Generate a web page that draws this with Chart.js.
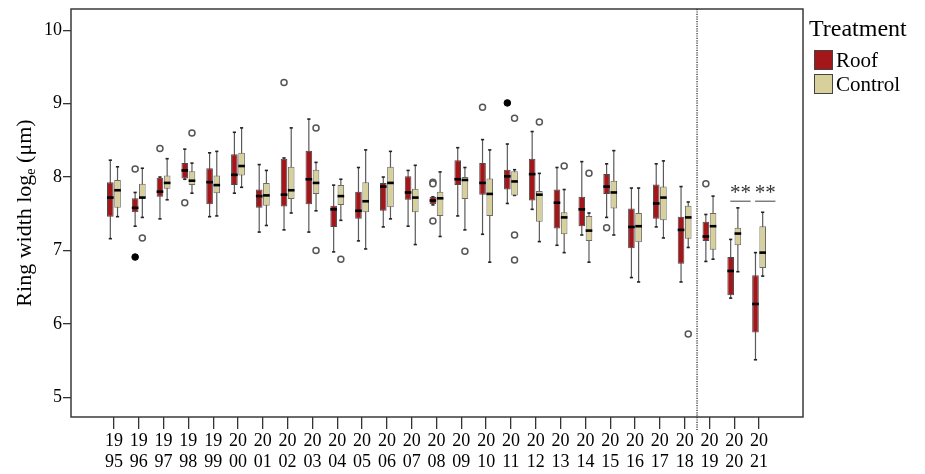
<!DOCTYPE html>
<html>
<head>
<meta charset="utf-8">
<script src="https://cdn.jsdelivr.net/npm/chart.js@4.4.1/dist/chart.umd.min.js"></script>
<style>
  html, body { margin: 0; padding: 0; background: #fff; }
  #wrap { width: 925px; height: 474px; }
</style>
</head>
<body>
<div id="wrap"><canvas id="chart"></canvas></div>
<script>
const years = ['1995','1996','1997','1998','1999','2000','2001','2002','2003','2004','2005','2006','2007','2008',
  '2009','2010','2011','2012','2013','2014','2015','2016','2017','2018','2019','2020','2021'];

// [lower whisker, Q1, median, Q3, upper whisker]
const roofStats = [
  [7.16, 7.46, 7.72, 7.93, 8.23], [7.33, 7.52, 7.58, 7.71, 7.79], [7.43, 7.73, 7.80, 7.99, 8.00],
  [7.97, 7.98, 8.09, 8.19, 8.38], [7.46, 7.63, 7.93, 8.12, 8.33], [7.78, 7.89, 8.03, 8.31, 8.61],
  [7.25, 7.58, 7.74, 7.83, 8.17], [7.28, 7.60, 7.76, 8.25, 8.26], [7.25, 7.63, 7.97, 8.36, 8.79],
  [6.98, 7.32, 7.56, 7.61, 7.89], [7.13, 7.43, 7.54, 7.80, 8.13], [7.32, 7.54, 7.87, 7.92, 8.00],
  [7.33, 7.69, 7.79, 8.01, 8.09], [7.62, 7.63, 7.68, 7.73, 7.73], [7.47, 7.89, 7.97, 8.23, 8.40],
  [7.22, 7.76, 7.92, 8.19, 8.51], [7.64, 7.83, 8.01, 8.10, 8.45], [7.56, 7.68, 8.04, 8.25, 8.62],
  [7.07, 7.30, 7.65, 7.83, 8.13], [7.21, 7.33, 7.56, 7.73, 8.21], [7.45, 7.77, 7.87, 8.04, 8.18],
  [6.63, 7.03, 7.32, 7.57, 7.85], [7.32, 7.43, 7.64, 7.90, 8.18], [6.57, 6.82, 7.28, 7.46, 7.87],
  [6.85, 7.13, 7.19, 7.39, 7.49], [6.35, 6.39, 6.72, 6.91, 7.15], [5.51, 5.88, 6.27, 6.66, 6.97]
];
const controlStats = [
  [7.46, 7.58, 7.82, 7.96, 8.14], [7.45, 7.71, 7.72, 7.91, 8.12], [7.69, 7.84, 7.92, 8.02, 8.25],
  [7.78, 7.89, 7.95, 8.08, 8.19], [7.47, 7.78, 7.89, 8.02, 8.35], [7.86, 8.02, 8.15, 8.33, 8.67],
  [7.34, 7.61, 7.75, 7.92, 8.09], [7.51, 7.70, 7.82, 8.14, 8.67], [7.54, 7.77, 7.92, 8.10, 8.20],
  [7.41, 7.62, 7.74, 7.89, 7.97], [7.02, 7.52, 7.67, 7.93, 8.37], [7.43, 7.59, 7.92, 8.14, 8.35],
  [7.08, 7.52, 7.72, 7.84, 8.16], [7.19, 7.47, 7.71, 7.80, 8.07], [7.28, 7.70, 7.96, 8.00, 8.13],
  [6.84, 7.47, 7.77, 7.98, 8.37], [7.75, 7.75, 7.94, 8.08, 8.10], [7.12, 7.39, 7.76, 7.81, 8.05],
  [6.97, 7.22, 7.45, 7.52, 7.83], [6.84, 7.13, 7.27, 7.47, 7.51], [7.21, 7.57, 7.79, 7.95, 8.36],
  [6.57, 7.11, 7.33, 7.51, 7.85], [7.17, 7.41, 7.72, 7.87, 8.22], [7.04, 7.16, 7.45, 7.61, 7.66],
  [6.88, 7.01, 7.33, 7.51, 7.74], [6.71, 7.07, 7.23, 7.31, 7.58], [6.65, 6.76, 6.97, 7.33, 7.52]
];

// outliers (open circles) and extremes (filled dots): [year, value]
const roofOutliers = [['1996', 8.11], ['1997', 8.39], ['1998', 7.65], ['2002', 9.29], ['2008', 7.93],
  ['2008', 7.91], ['2008', 7.40], ['2010', 8.95], ['2015', 7.31], ['2019', 7.91]];
const roofExtremes = [['1996', 6.91], ['2011', 9.01]];
const controlOutliers = [['1996', 7.17], ['1998', 8.60], ['2003', 8.67], ['2003', 7.00], ['2004', 6.88],
  ['2009', 6.99], ['2011', 8.80], ['2011', 7.21], ['2011', 6.87], ['2012', 8.75], ['2013', 8.15],
  ['2014', 8.05], ['2018', 5.86]];

const sigYears = ['2020', '2021'];
const sigLevel = 7.67;
const sigLabel = '**';
const splitBetween = ['2018', '2019'];
const yTicks = [5, 6, 7, 8, 9, 10];
const legendTitle = 'Treatment';

const SERIF = "'Liberation Serif', 'Times New Roman', serif";
const ROOF = '#a3161a';
const CONTROL = '#d8d09a';
const CAT_PCT = 0.58;
const yi = y => years.indexOf(y);

function pointsFrom(list, side) {
  return list.map(([yr, v]) => ({ x: yi(yr) + side * CAT_PCT / 4, y: v }));
}
function boxesFrom(stats) {
  return stats.map((s, i) => ({ x: i, y: [s[1], s[3]] }));
}

const boxParts = {
  id: 'boxParts',
  beforeDatasetsDraw(chart) {
    const { ctx, chartArea } = chart;
    const ys = chart.scales.y;
    ctx.save();
    ctx.beginPath();
    ctx.rect(chartArea.left, chartArea.top, chartArea.width, chartArea.height);
    ctx.clip();
    [0, 1].forEach(di => {
      const meta = chart.getDatasetMeta(di);
      const stats = chart.data.datasets[di].stats;
      meta.data.forEach((el, i) => {
        const s = stats[i];
        ctx.strokeStyle = '#5a5a5a';
        ctx.lineWidth = 1.2;
        ctx.beginPath();
        ctx.moveTo(el.x, ys.getPixelForValue(s[0]));
        ctx.lineTo(el.x, ys.getPixelForValue(s[4]));
        ctx.stroke();
        ctx.strokeStyle = '#222';
        ctx.lineWidth = 1.6;
        [s[0], s[4]].forEach(v => {
          const py = ys.getPixelForValue(v);
          ctx.beginPath();
          ctx.moveTo(el.x - 1.6, py);
          ctx.lineTo(el.x + 1.6, py);
          ctx.stroke();
        });
      });
    });
    ctx.restore();
  },
  afterDatasetsDraw(chart) {
    const { ctx } = chart;
    const ys = chart.scales.y;
    ctx.save();
    [0, 1].forEach(di => {
      const meta = chart.getDatasetMeta(di);
      const stats = chart.data.datasets[di].stats;
      meta.data.forEach((el, i) => {
        const py = ys.getPixelForValue(stats[i][2]);
        ctx.strokeStyle = '#000';
        ctx.lineWidth = 2.6;
        ctx.beginPath();
        ctx.moveTo(el.x - el.width / 2, py);
        ctx.lineTo(el.x + el.width / 2, py);
        ctx.stroke();
      });
    });
    ctx.restore();
  },
  afterDraw(chart) {
    const { ctx, chartArea } = chart;
    const xs = chart.scales.x;
    const ys = chart.scales.y;
    ctx.save();

    // frame
    ctx.strokeStyle = '#3a3a3a';
    ctx.lineWidth = 1.5;
    ctx.strokeRect(chartArea.left, chartArea.top, chartArea.width, chartArea.height);

    // dotted split line
    const sx = xs.getPixelForValue((yi(splitBetween[0]) + yi(splitBetween[1])) / 2);
    ctx.strokeStyle = '#222';
    ctx.lineWidth = 1.2;
    ctx.setLineDash([1.2, 1.2]);
    ctx.beginPath();
    ctx.moveTo(sx, chartArea.top);
    ctx.lineTo(sx, chartArea.bottom + 13);
    ctx.stroke();
    ctx.setLineDash([]);

    // significance marks
    const ly = ys.getPixelForValue(sigLevel);
    sigYears.forEach(yr => {
      const c = yi(yr) + 0.25;
      const x0 = xs.getPixelForValue(c - 0.41);
      const x1 = xs.getPixelForValue(c + 0.41);
      ctx.strokeStyle = '#777';
      ctx.lineWidth = 1.4;
      ctx.beginPath();
      ctx.moveTo(x0, ly);
      ctx.lineTo(x1, ly);
      ctx.stroke();
      ctx.fillStyle = '#333';
      ctx.font = `21px ${SERIF}`;
      ctx.textAlign = 'center';
      ctx.textBaseline = 'alphabetic';
      ctx.fillText(sigLabel, (x0 + x1) / 2, ly - 2);
    });

    // y-axis title with subscript
    ctx.translate(25, (chartArea.top + chartArea.bottom) / 2);
    ctx.rotate(-Math.PI / 2);
    const parts = [['Ring width log', `22px ${SERIF}`, 0], ['e', `14px ${SERIF}`, 4], [' (\u03bcm)', `22px ${SERIF}`, 0]];
    let total = 0;
    parts.forEach(p => { ctx.font = p[1]; total += ctx.measureText(p[0]).width; });
    let tx = -total / 2;
    ctx.fillStyle = '#000';
    ctx.textAlign = 'left';
    parts.forEach(p => {
      ctx.font = p[1];
      ctx.fillText(p[0], tx, 6 + p[2]);
      tx += ctx.measureText(p[0]).width;
    });
    ctx.setTransform(1, 0, 0, 1, 0, 0);

    // legend
    const lx = chartArea.right;
    ctx.fillStyle = '#000';
    ctx.font = `24px ${SERIF}`;
    ctx.fillText(legendTitle, lx + 6, 36);
    [0, 1].forEach(di => {
      const ds = chart.data.datasets[di];
      const top = 50 + di * 24;
      ctx.fillStyle = ds.backgroundColor;
      ctx.fillRect(lx + 11, top, 19, 20);
      ctx.strokeStyle = '#444';
      ctx.lineWidth = 1;
      ctx.strokeRect(lx + 11.5, top + 0.5, 18, 19);
      ctx.fillStyle = '#000';
      ctx.font = `21px ${SERIF}`;
      ctx.fillText(ds.label, lx + 33, top + 17);
    });
    ctx.restore();
  }
};

new Chart(document.getElementById('chart'), {
  type: 'bar',
  data: {
    datasets: [
      { label: 'Roof', data: boxesFrom(roofStats), stats: roofStats, backgroundColor: ROOF,
        borderColor: '#4a4a4a', borderWidth: 1, borderSkipped: false,
        categoryPercentage: CAT_PCT, barPercentage: 0.92 },
      { label: 'Control', data: boxesFrom(controlStats), stats: controlStats, backgroundColor: CONTROL,
        borderColor: '#6a6a6a', borderWidth: 1, borderSkipped: false,
        categoryPercentage: CAT_PCT, barPercentage: 0.92 },
      { type: 'scatter', label: 'Roof outliers', data: pointsFrom(roofOutliers, -1),
        pointStyle: 'circle', pointRadius: 3, backgroundColor: '#fff', borderColor: '#555', borderWidth: 1.5 },
      { type: 'scatter', label: 'Control outliers', data: pointsFrom(controlOutliers, 1),
        pointStyle: 'circle', pointRadius: 3, backgroundColor: '#fff', borderColor: '#555', borderWidth: 1.5 },
      { type: 'scatter', label: 'Roof extremes', data: pointsFrom(roofExtremes, -1),
        pointStyle: 'circle', pointRadius: 3.3, backgroundColor: '#000', borderColor: '#000', borderWidth: 1 }
    ]
  },
  options: {
    responsive: true,
    maintainAspectRatio: false,
    animation: false,
    layout: { padding: { top: 9, right: 122, left: 0, bottom: 0 } },
    plugins: { legend: { display: false }, tooltip: { enabled: false } },
    scales: {
      x: {
        type: 'linear',
        offset: false,
        min: -1.73,
        max: 27.77,
        afterBuildTicks: s => { s.ticks = years.map((_, i) => ({ value: i })); },
        afterFit: s => { s.height = 57; s.paddingLeft = 0; s.paddingRight = 0; },
        grid: { offset: false, drawOnChartArea: false, drawTicks: true, tickLength: 12, color: '#333', lineWidth: 1.3 },
        border: { display: false },
        ticks: {
          autoSkip: false, maxRotation: 0, padding: 2, color: '#000',
          font: { family: SERIF, size: 18, lineHeight: 1.15 },
          callback: v => [years[v].slice(0, 2), years[v].slice(2)]
        }
      },
      y: {
        min: 4.73,
        max: 10.29,
        afterBuildTicks: s => { s.ticks = yTicks.map(v => ({ value: v })); },
        afterFit: s => { s.width = 71; s.paddingTop = 0; s.paddingBottom = 0; },
        grid: { drawOnChartArea: false, drawTicks: true, tickLength: 8, color: '#333', lineWidth: 1.3 },
        border: { display: false },
        ticks: { padding: 1, color: '#000', font: { family: SERIF, size: 18 } }
      }
    }
  },
  plugins: [boxParts]
});
</script>
</body>
</html>
